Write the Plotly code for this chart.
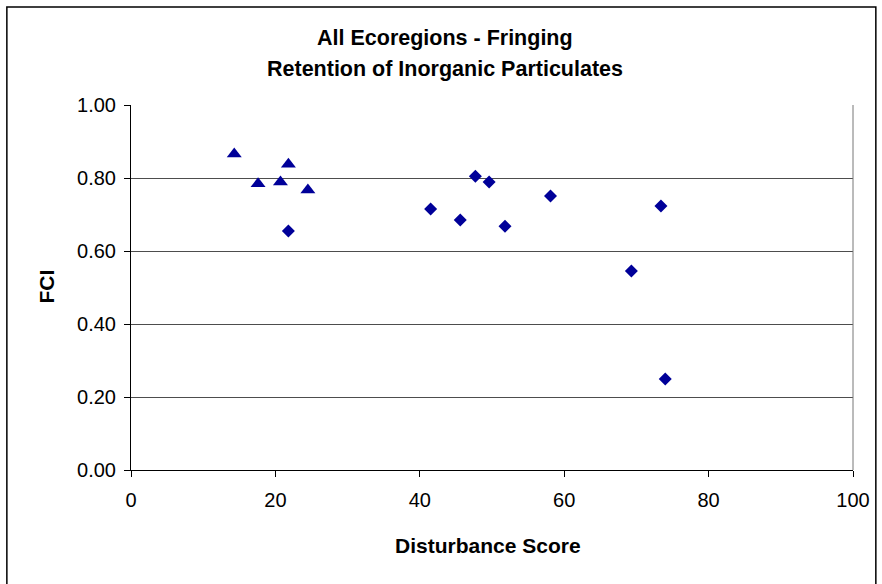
import plotly.graph_objects as go

# Fringing wetlands, two symbol groups as drawn in the reference
tri_score = [14.3, 17.6, 20.7, 21.8, 24.5]
tri_fci = [0.866, 0.784, 0.789, 0.838, 0.767]

dia_score = [21.8, 41.5, 45.6, 47.7, 49.6, 51.8, 58.1, 69.3, 73.4, 74.0]
dia_fci = [0.655, 0.715, 0.685, 0.805, 0.789, 0.668, 0.751, 0.545, 0.723, 0.249]

x_ticks = [0, 20, 40, 60, 80, 100]
y_ticks = [0.0, 0.2, 0.4, 0.6, 0.8, 1.0]

title_lines = ['All Ecoregions - Fringing', 'Retention of Inorganic Particulates']
x_title = 'Disturbance Score'
y_title = 'FCI'

navy = '#000099'
font_family = 'Liberation Sans, Arial, sans-serif'

# plot area in pixels (figure is 882 x 584)
L, R, T, B = 131, 858, 105, 470
W, H = R - L, B - T


def px_x(p):
    return (p - L) / W


def px_y(p):
    return (B - p) / H


fig = go.Figure()

fig.add_trace(go.Scatter(
    x=tri_score, y=tri_fci, mode='markers',
    marker=dict(symbol='triangle-up', size=13, color=navy),
    showlegend=False
))

fig.add_trace(go.Scatter(
    x=dia_score, y=dia_fci, mode='markers',
    marker=dict(symbol='diamond', size=10, color=navy),
    showlegend=False
))

fig.update_layout(
    width=882, height=584,
    margin=dict(l=L, r=882 - R, t=T, b=584 - B),
    paper_bgcolor='white',
    plot_bgcolor='white',
    font=dict(family=font_family, size=20, color='black'),
    xaxis=dict(
        range=[0, 100], tickvals=x_ticks, ticktext=[str(v) for v in x_ticks],
        showgrid=False, zeroline=False,
        showline=True, linecolor='black', linewidth=1,
        ticks='outside', ticklen=6, tickcolor='black',
        ticklabelstandoff=6,
        tickfont=dict(size=20)
    ),
    yaxis=dict(
        range=[0, 1], tickvals=y_ticks, tickformat='.2f',
        showgrid=True, gridcolor='#4d4d4d', gridwidth=1,
        zeroline=False,
        showline=True, linecolor='black', linewidth=1,
        ticks='outside', ticklen=6, tickcolor='black',
        ticklabelstandoff=4,
        tickfont=dict(size=20)
    ),
)

# title, two lines, centred on the chart frame
for text, ypx in zip(title_lines, [38, 69]):
    fig.add_annotation(text='<b>%s</b>' % text, xref='paper', yref='paper',
                       x=px_x(447), y=px_y(ypx), showarrow=False,
                       xanchor='center', yanchor='middle', font=dict(size=21.5))

fig.add_annotation(text='<b>%s</b>' % x_title, xref='paper', yref='paper',
                   x=px_x(490), y=px_y(545), showarrow=False,
                   xanchor='center', yanchor='middle', font=dict(size=21))
fig.add_annotation(text='<b>%s</b>' % y_title, xref='paper', yref='paper',
                   x=px_x(45), y=px_y(287), showarrow=False, textangle=-90,
                   xanchor='center', yanchor='middle', font=dict(size=21))

# plot-area right border (Excel style)
fig.add_shape(type='line', xref='paper', yref='paper',
              x0=1, x1=1, y0=0, y1=1, line=dict(color='#777777', width=1))

# chart frame
fig.add_shape(type='rect', xref='paper', yref='paper',
              x0=px_x(6), x1=px_x(881), y0=px_y(600), y1=px_y(7),
              line=dict(color='black', width=1.5), layer='below')

fig.write_html('out.html', config={'displayModeBar': False},
               post_script="document.body.style.margin='0';")
